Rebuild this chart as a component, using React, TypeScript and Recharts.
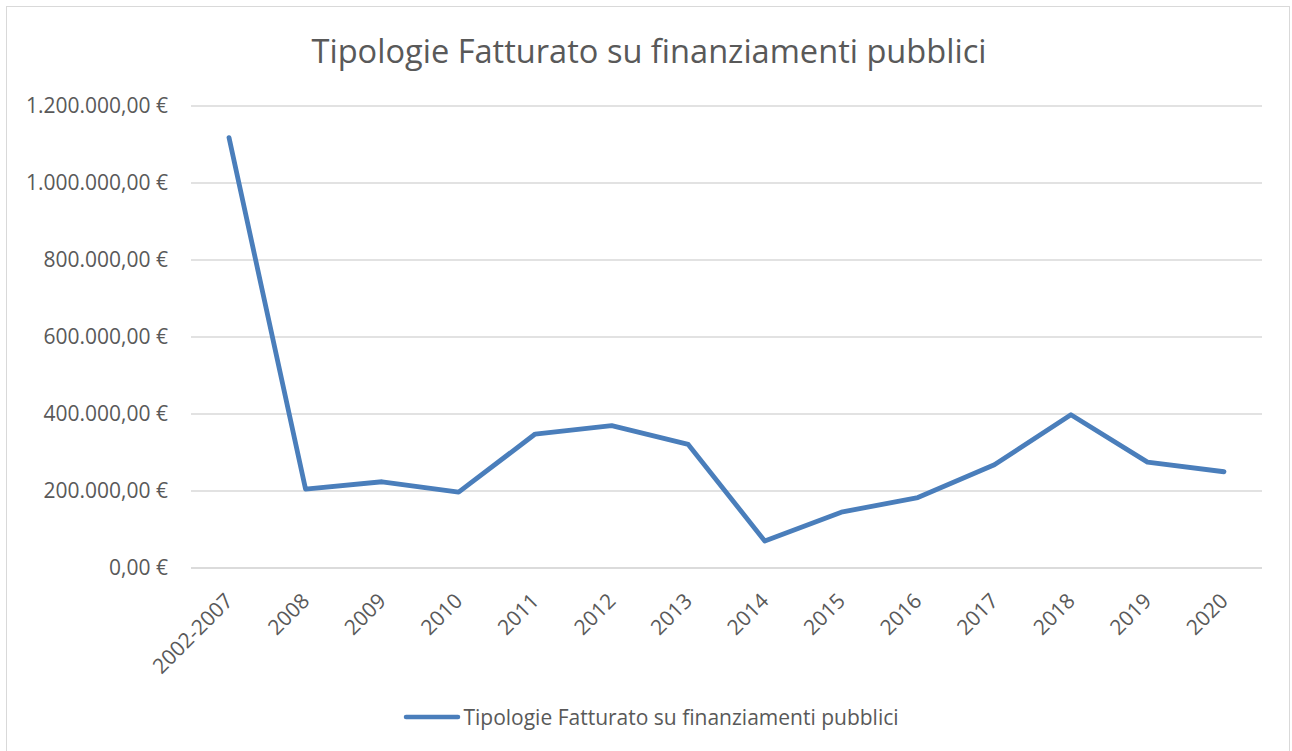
import { LineChart, Line, XAxis, YAxis, CartesianGrid, Legend } from 'recharts'

const categories = ['2002-2007', '2008', '2009', '2010', '2011', '2012', '2013', '2014', '2015', '2016', '2017', '2018', '2019', '2020']
const fatturato = [1118000, 205000, 224000, 197000, 348000, 370000, 321000, 70000, 145000, 183000, 268000, 398000, 275000, 250000]
const yTicks = [0, 200000, 400000, 600000, 800000, 1000000, 1200000]

const seriesName = 'Tipologie Fatturato su finanziamenti pubblici'
const title = 'Tipologie Fatturato su finanziamenti pubblici'

const FONT = '"Open Sans", sans-serif'
const TEXT = '#595959'
const LINE = '#4a7ebb'
const GRID = '#d9d9d9'

// 1200000 -> "1.200.000,00 €"
function euro(v: number) {
  const s = Math.round(v).toString().replace(/\B(?=(\d{3})+(?!\d))/g, '.')
  return s + ',00 €'
}

const chartData = categories.map((c, i) => ({ cat: c, value: fatturato[i] }))

function XTick({ x, y, payload }: any) {
  return (
    <g transform={`translate(${x},${y + 29})`}>
      <text transform="rotate(-45)" textAnchor="end" dy="0.35em" fill={TEXT} fontSize={21} fontFamily={FONT}>
        {payload.value}
      </text>
    </g>
  )
}

function LegendBox() {
  return (
    <div style={{ height: 63, display: 'flex', justifyContent: 'center', alignItems: 'center', paddingBottom: 5, boxSizing: 'border-box' }}>
      <svg width={58} height={10} style={{ marginRight: 2 }}>
        <line x1={3} y1={5} x2={55} y2={5} stroke={LINE} strokeWidth={4.5} strokeLinecap="round" />
      </svg>
      <span style={{ fontFamily: FONT, fontSize: 21, color: TEXT }}>{seriesName}</span>
    </div>
  )
}

export default function App() {
  return (
    <div style={{ position: 'absolute', left: 0, top: 0, width: 1292, height: 751, overflow: 'hidden', background: '#fff' }}>
      <div style={{ position: 'absolute', left: 6, top: 6, width: 1284, height: 800, border: `1.5px solid ${GRID}`, boxSizing: 'border-box' }} />
      <div style={{ position: 'absolute', left: 0, top: 28, width: 1298, textAlign: 'center', fontFamily: FONT, fontSize: 32.6, color: TEXT }}>
        {title}
      </div>
      <div style={{ position: 'absolute', left: 0, top: 0 }}>
        <LineChart width={1292} height={751} data={chartData} margin={{ top: 106, right: 30, left: 0, bottom: 0 }} style={{ fontFamily: FONT }}>
          <CartesianGrid vertical={false} stroke={GRID} strokeWidth={1.5} />
          <XAxis
            dataKey="cat"
            interval={0}
            height={120}
            padding={{ left: 38, right: 38 }}
            tickLine={false}
            tickSize={0}
            tickMargin={0}
            axisLine={{ stroke: GRID, strokeWidth: 1.5 }}
            tick={<XTick />}
          />
          <YAxis
            width={191}
            domain={[0, 1200000]}
            ticks={yTicks}
            tickFormatter={euro}
            axisLine={false}
            tickLine={false}
            tickSize={0}
            tickMargin={23}
            tick={{ fill: TEXT, fontSize: 21, fontFamily: FONT }}
          />
          <Legend verticalAlign="bottom" wrapperStyle={{ height: 63, width: 1302, left: 0 }} content={() => <LegendBox />} />
          <Line
            type="linear"
            dataKey="value"
            name={seriesName}
            stroke={LINE}
            strokeWidth={4.8}
            strokeLinecap="round"
            strokeLinejoin="round"
            dot={false}
            activeDot={false}
            isAnimationActive={false}
          />
        </LineChart>
      </div>
    </div>
  )
}
